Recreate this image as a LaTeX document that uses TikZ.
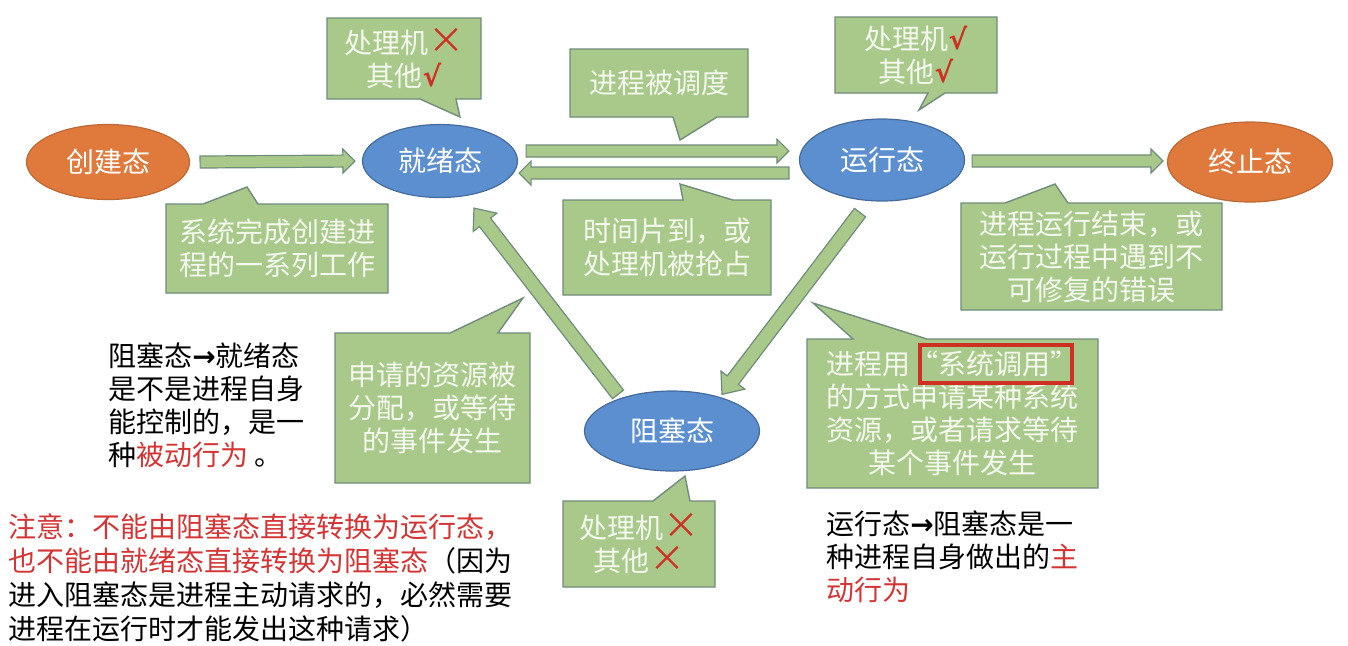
\documentclass[tikz,border=0pt]{standalone}
\usepackage{fontspec}
\setmainfont{Noto Sans CJK SC}
\newfontfamily\symfont{DejaVu Sans}
\usetikzlibrary{shapes.geometric,calc,backgrounds}

\definecolor{stateorange}{RGB}{224,122,60}
\definecolor{stateblue}{RGB}{91,143,208}
\definecolor{notegreen}{RGB}{169,201,139}
\definecolor{noteedge}{RGB}{112,140,122}
\definecolor{notetext}{RGB}{244,248,238}
\definecolor{markred}{RGB}{206,48,36}
\definecolor{textred}{RGB}{212,52,52}

\newcommand\markyes{{\symfont\bfseries\color{markred}√}}
\newcommand\markno{{\color{markred}\fontsize{18}{16.5}\selectfont ×}}
\newcommand\arr{{\symfont\bfseries →}}

% fat block arrow: shaft, head, head length, from, to
\newcommand\fatarrow[5]{%
  \draw[fat] ($(#4)!#1!90:(#5)$)
    -- ($(#5)!#3!(#4)!#1!90:(#5)$)
    -- ($(#5)!#3!(#4)!#2!90:(#5)$)
    -- (#5)
    -- ($(#5)!#3!(#4)!#2!-90:(#5)$)
    -- ($(#5)!#3!(#4)!#1!-90:(#5)$)
    -- ($(#4)!#1!-90:(#5)$) -- cycle;}

% callout outlines: node, left base, right base, tip
\newcommand\bubbledown[4]{%
  \draw[bubble] (#1.north west) -- (#1.north east) -- (#1.south east)
    -- ($(#1.south west)+(#3,0)$) -- (#4) -- ($(#1.south west)+(#2,0)$)
    -- (#1.south west) -- cycle;}
\newcommand\bubbleup[4]{%
  \draw[bubble] (#1.north west) -- ($(#1.north west)+(#2,0)$) -- (#4)
    -- ($(#1.north west)+(#3,0)$) -- (#1.north east) -- (#1.south east)
    -- (#1.south west) -- cycle;}

\begin{document}
\begin{tikzpicture}[x=0.5pt, y=-0.5pt,
  every node/.style={font=\fontsize{14}{16.5}\selectfont},
  state/.style={ellipse, fill=stateblue, draw=stateblue!75!black, line width=0.6pt,
    text=white, inner sep=0pt},
  endstate/.style={state, fill=stateorange, draw=stateorange!85!black},
  note/.style={align=center, text=notetext, inner sep=0pt, outer sep=0pt},
  bubble/.style={fill=notegreen, draw=noteedge, line width=0.7pt, line join=miter},
  fat/.style={fill=notegreen, draw=noteedge, line width=0.6pt, line join=miter},
  remark/.style={align=left, inner sep=0pt, anchor=west}]

\useasboundingbox (0,0) rectangle (1348,645);

% states
\node[endstate, minimum width=81.5pt, minimum height=37.5pt] (new) at (108,162) {创建态};
\node[state, minimum width=77.5pt, minimum height=36.5pt] (ready) at (440,161) {就绪态};
\node[state, minimum width=82.5pt, minimum height=41pt] (run) at (882,160) {运行态};
\node[endstate, minimum width=82.5pt, minimum height=40pt] (exit) at (1250,162) {终止态};
\node[state, minimum width=87.5pt, minimum height=40pt] (block) at (672,431) {阻塞态};

% callouts
\node[note, minimum width=77pt, minimum height=40.5pt] (cpuA) at (404,58.5) {处理机\markno\\其他\markyes};
\node[note, minimum width=81pt, minimum height=38pt] (cpuB) at (916,55) {处理机\markyes\\其他\markyes};
\node[note, minimum width=89pt, minimum height=34pt] (sched) at (659,83) {进程被调度};
\node[note, minimum width=104pt, minimum height=47.5pt] (slice) at (667,247.5) {时间片到，或\\处理机被抢占};
\node[note, minimum width=111pt, minimum height=44.5pt] (made) at (277,248.5) {系统完成创建进\\程的一系列工作};
\node[note, minimum width=130.5pt, minimum height=53.5pt] (done) at (1091.5,256.5) {进程运行结束，或\\运行过程中遇到不\\可修复的错误};
\node[note, minimum width=97.5pt, minimum height=75pt] (wake) at (432.5,408) {申请的资源被\\分配，或等待\\的事件发生};
\node[note, minimum width=145.5pt, minimum height=74.5pt] (syscall) at (952.5,413.5) {进程用“系统调用”\\的方式申请某种系统\\资源，或者请求等待\\某个事件发生};
\node[note, minimum width=76pt, minimum height=43pt] (cpuC) at (639,544) {处理机\markno\\其他\markno};

\begin{pgfonlayer}{background}
\bubbledown{cpuA}{93}{129}{460,117}
\bubbledown{cpuB}{93}{110}{919,110}
\bubbledown{sched}{103}{147}{680,140}
\bubbleup{slice}{120}{170}{680,184}
\bubbleup{made}{37}{92}{247,187}
\bubbleup{done}{44}{107}{1055,184}
\bubbleup{wake}{115}{163}{523,298}
\bubbleup{syscall}{46}{120}{813,303}
\bubbleup{cpuC}{90}{127}{685,476}
\end{pgfonlayer}

\draw[markred, line width=1.6pt] ($(syscall.north west)+(113,6)$) rectangle ($(syscall.north west)+(265,44)$);

% arrow ends
\coordinate (n1) at ($(new.east)+(10,0)$);
\coordinate (n2) at ($(ready.west)+(-7,0)$);
\coordinate (ru1) at ($(ready.east)+(8,-10)$);
\coordinate (ru2) at ($(run.west)+(-10,-9)$);
\coordinate (rl1) at ($(run.west)+(-10,13)$);
\coordinate (rl2) at ($(ready.east)+(1,12)$);
\coordinate (x1) at ($(run.east)+(7,1)$);
\coordinate (x2) at ($(exit.west)+(-4,-1)$);
\coordinate (b1) at ($(run.south)+(-22,11)$);
\coordinate (b2) at ($(block.north)+(50,4)$);
\coordinate (w1) at ($(block.north)+(-54,4)$);
\coordinate (w2) at ($(ready.south)+(34,10)$);

\fatarrow{3pt}{6pt}{6pt}{n1}{n2}
\fatarrow{3pt}{6pt}{6pt}{ru1}{ru2}
\fatarrow{3pt}{6pt}{6pt}{rl1}{rl2}
\fatarrow{3pt}{6pt}{6pt}{x1}{x2}
\fatarrow{3.5pt}{7.5pt}{9pt}{b1}{b2}
\fatarrow{3.5pt}{7.5pt}{9pt}{w1}{w2}

% remarks
\node[remark] (passive) at (108,405) {阻塞态\arr 就绪态\\是不是进程自身\\能控制的，是一\\种{\color{textred}被动行为} 。};
\node[remark, font=\fontsize{14}{17}\selectfont] (note) at (8,578) {{\color{textred}注意：不能由阻塞态直接转换为运行态，}\\{\color{textred}也不能由就绪态直接转换为阻塞态}（因为\\进入阻塞态是进程主动请求的，必然需要\\进程在运行时才能发出这种请求）};
\node[remark] (active) at (826,557) {运行态\arr 阻塞态是一\\种进程自身做出的{\color{textred}主}\\{\color{textred}动行为}};

\end{tikzpicture}
\end{document}
